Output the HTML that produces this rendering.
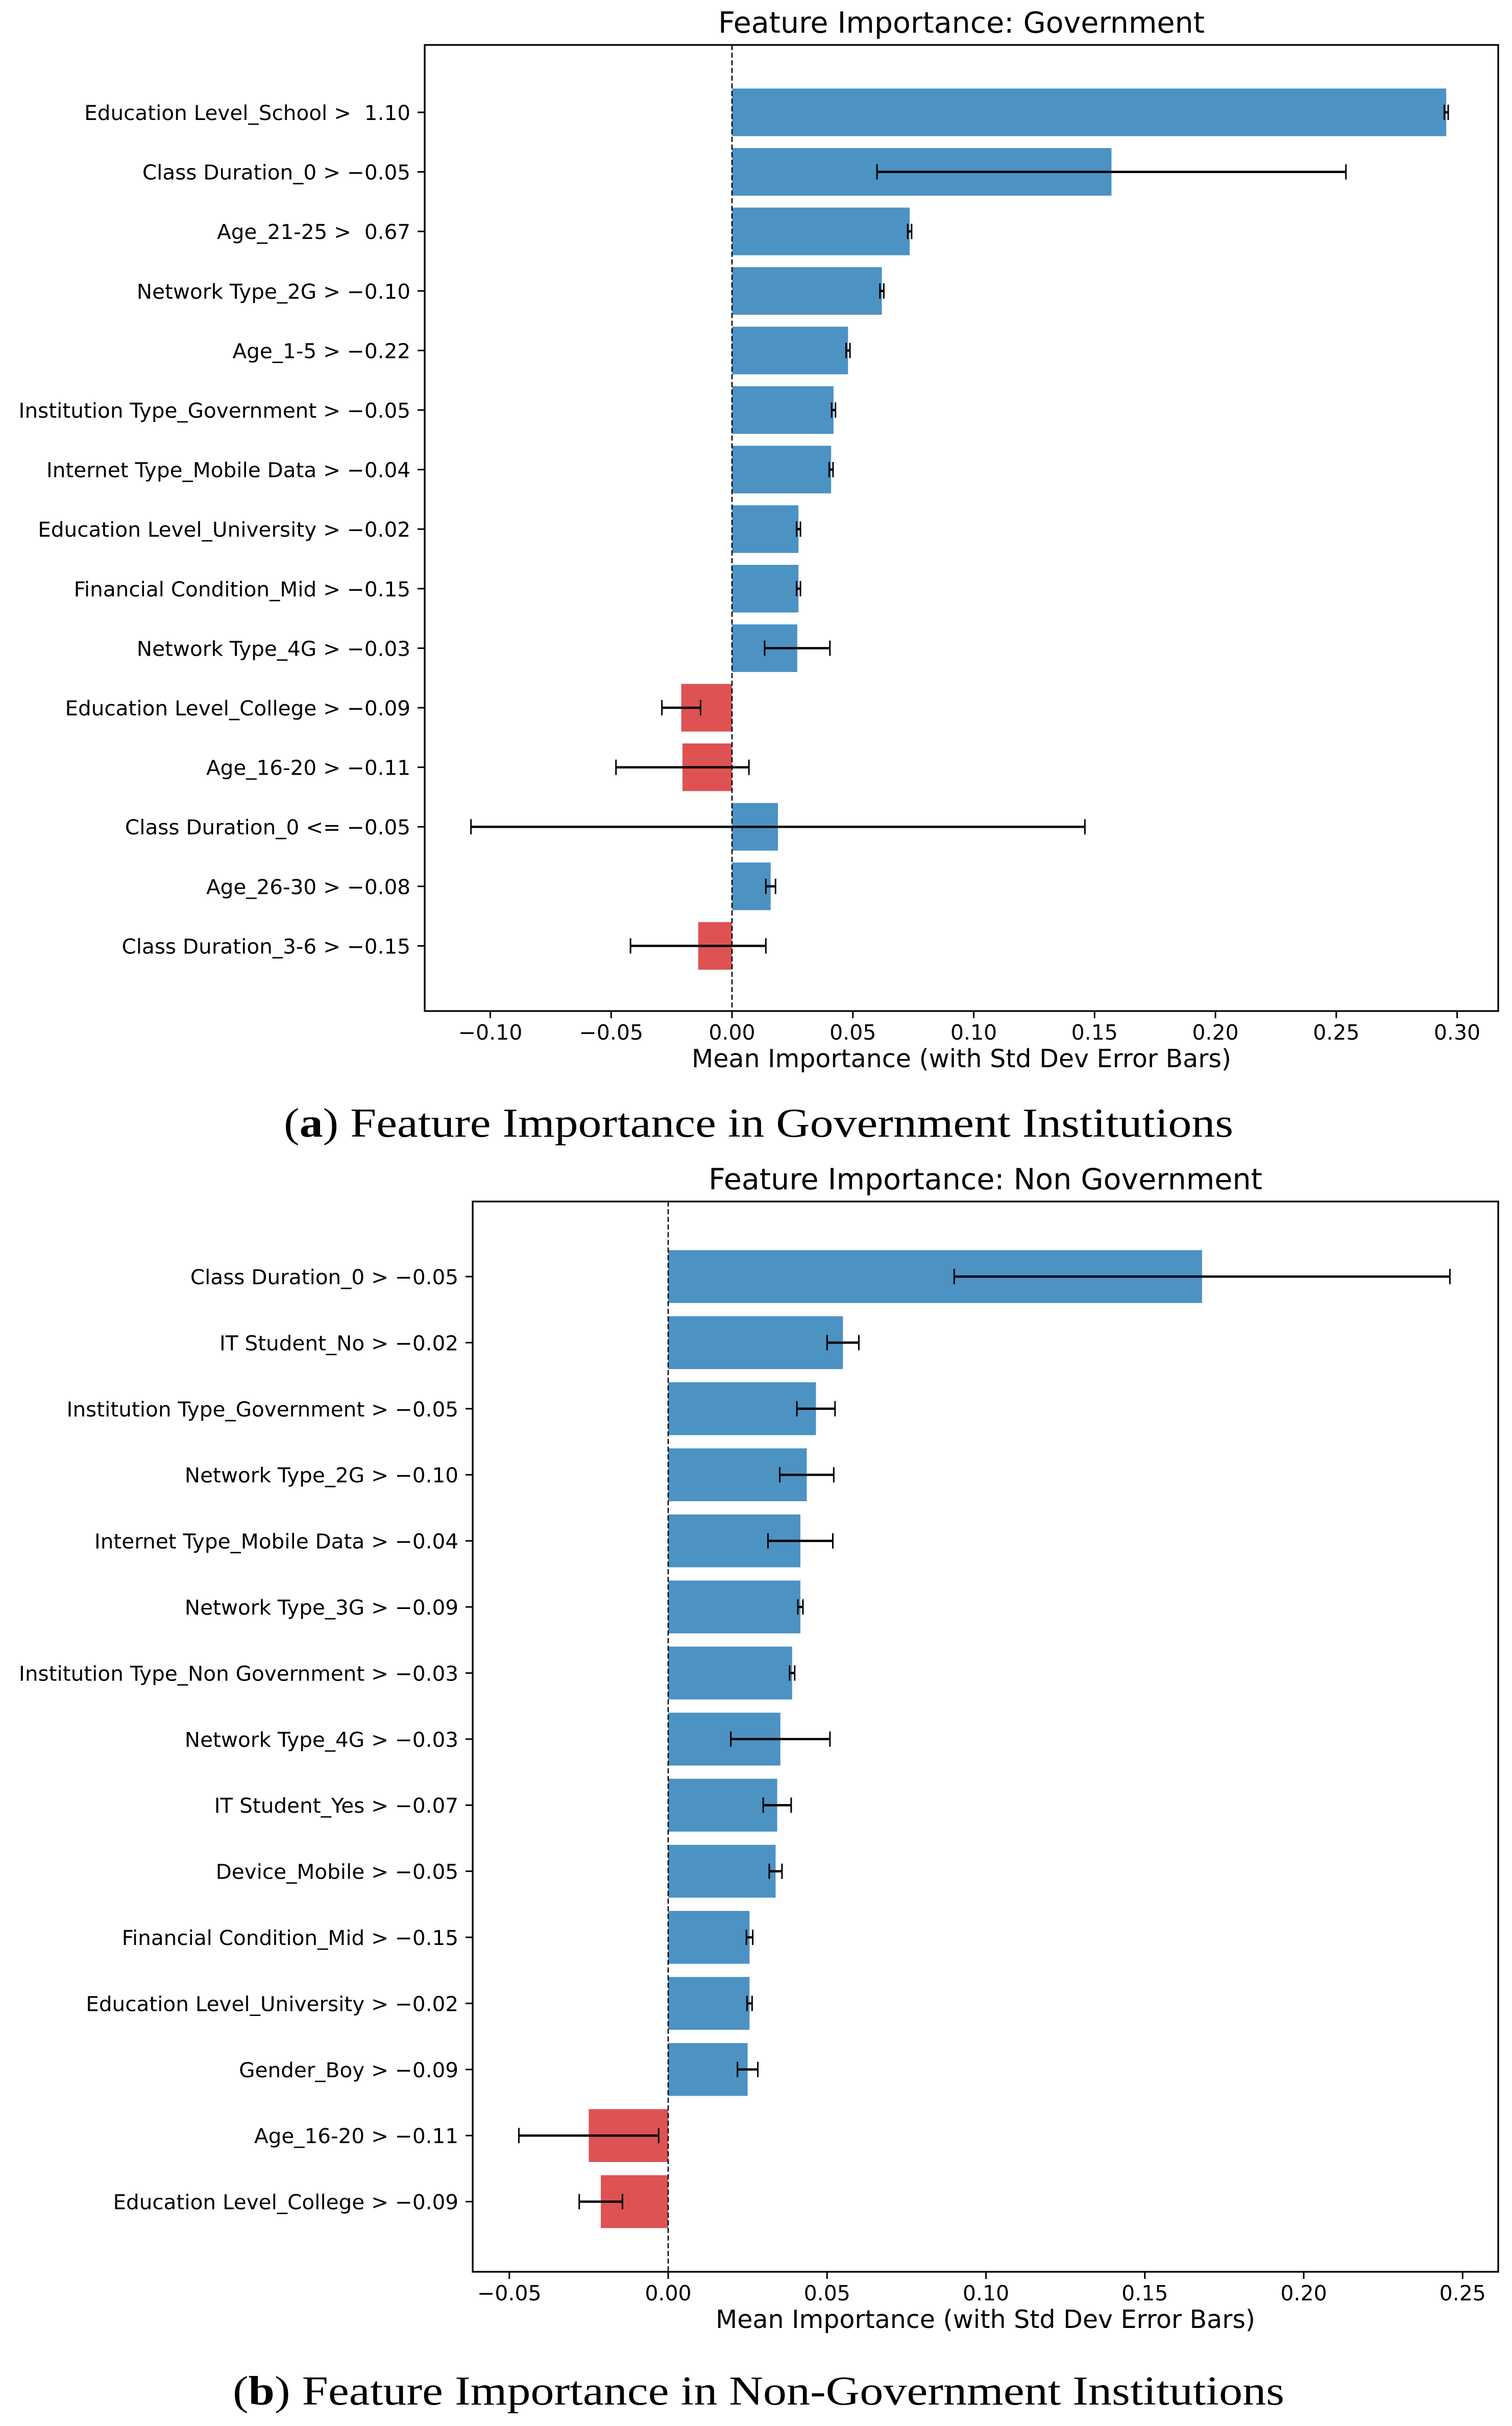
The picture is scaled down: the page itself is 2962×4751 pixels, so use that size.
<!DOCTYPE html>
<html><head><meta charset="utf-8"><style>
html,body{margin:0;padding:0;background:#fff}
svg{display:block}
text{font-family:"DejaVu Sans","Liberation Sans",sans-serif;fill:#000;white-space:pre}
.cap{font-family:"Liberation Serif",serif}
</style></head><body>
<svg id="svg" width="2962" height="4751" viewBox="0 0 2962 4751" xmlns="http://www.w3.org/2000/svg" xml:space="preserve"></svg>
<script>
// Chart (a): Government
const govLabels = ["Education Level_School >  1.10","Class Duration_0 > \u22120.05","Age_21-25 >  0.67","Network Type_2G > \u22120.10","Age_1-5 > \u22120.22","Institution Type_Government > \u22120.05","Internet Type_Mobile Data > \u22120.04","Education Level_University > \u22120.02","Financial Condition_Mid > \u22120.15","Network Type_4G > \u22120.03","Education Level_College > \u22120.09","Age_16-20 > \u22120.11","Class Duration_0 <= \u22120.05","Age_26-30 > \u22120.08","Class Duration_3-6 > \u22120.15"];
const govMeans = [0.2955,0.157,0.0735,0.062,0.048,0.042,0.041,0.0275,0.0275,0.027,-0.021,-0.0205,0.019,0.016,-0.014];
const govStds = [0.0008,0.097,0.0008,0.0008,0.0008,0.0008,0.0008,0.0008,0.0008,0.0135,0.008,0.0275,0.127,0.002,0.028];
const govTicks = [-0.10,-0.05,0.00,0.05,0.10,0.15,0.20,0.25,0.30];
// Chart (b): Non Government
const ngLabels = ["Class Duration_0 > \u22120.05","IT Student_No > \u22120.02","Institution Type_Government > \u22120.05","Network Type_2G > \u22120.10","Internet Type_Mobile Data > \u22120.04","Network Type_3G > \u22120.09","Institution Type_Non Government > \u22120.03","Network Type_4G > \u22120.03","IT Student_Yes > \u22120.07","Device_Mobile > \u22120.05","Financial Condition_Mid > \u22120.15","Education Level_University > \u22120.02","Gender_Boy > \u22120.09","Age_16-20 > \u22120.11","Education Level_College > \u22120.09"];
const ngMeans = [0.168,0.055,0.0465,0.0436,0.0416,0.0416,0.039,0.0353,0.0343,0.0338,0.0256,0.0256,0.025,-0.025,-0.0212];
const ngStds = [0.078,0.005,0.006,0.0085,0.0102,0.0008,0.0008,0.0156,0.0044,0.002,0.001,0.0008,0.0032,0.022,0.0068];
const ngTicks = [-0.05,0.00,0.05,0.10,0.15,0.20,0.25];

const NS="http://www.w3.org/2000/svg";
const svg=document.getElementById('svg');
function mk(tag,attrs,parent){const e=document.createElementNS(NS,tag);for(const k in attrs)e.setAttribute(k,attrs[k]);(parent||svg).appendChild(e);return e;}

function chart(cfg){
  const g=mk('g',{});
  
  
  const {L,R,T,B,x0,pxPerUnit,y0,step}=cfg;
  const X=v=>x0+v*pxPerUnit;
  const Y=i=>y0+i*step;
  const bh=step*0.8;
  cfg.means.forEach((m,i)=>{
    const r=mk('rect',{x:Math.min(X(0),X(m)),y:Y(i)-bh/2,width:Math.abs(X(m)-X(0)),height:bh,fill:m>=0?'#1f77b4':'#d62728','fill-opacity':0.8},g);
    
    
  });
  cfg.means.forEach((m,i)=>{
    const s=cfg.stds[i];const y=Y(i);
    const eg=mk('g',{stroke:'#000','stroke-width':4.5},g);
    
    
    mk('line',{x1:X(m-s),x2:X(m+s),y1:y,y2:y},eg);
    mk('line',{x1:X(m-s),x2:X(m-s),y1:y-15,y2:y+15,'stroke-width':3},eg);
    mk('line',{x1:X(m+s),x2:X(m+s),y1:y-15,y2:y+15,'stroke-width':3},eg);
  });
  const z=mk('line',{x1:X(0),x2:X(0),y1:T,y2:B,stroke:'#000','stroke-width':2.5,'stroke-dasharray':'10,5'},g);
  
  
  const f=mk('rect',{x:L,y:T,width:R-L,height:B-T,fill:'none',stroke:'#000','stroke-width':3.3},g);
  
  
  cfg.ticks.forEach(t=>{
    mk('line',{x1:X(t),x2:X(t),y1:B,y2:B+14,stroke:'#000','stroke-width':3},g);
    const s=(t<0?'\u2212':'')+Math.abs(t).toFixed(2);
    const tx=mk('text',{x:X(t),y:B+56,'font-size':41,'text-anchor':'middle'},g);
    tx.textContent=s;
    
    
  });
  cfg.labels.forEach((l,i)=>{
    mk('line',{x1:L-14,x2:L,y1:Y(i),y2:Y(i),stroke:'#000','stroke-width':3},g);
    const tx=mk('text',{x:L-28,y:Y(i)+15,'font-size':40.5,'text-anchor':'end'},g);
    tx.textContent=l;
    
    
  });
  const xl=mk('text',{x:(L+R)/2,y:B+110,'font-size':49,'text-anchor':'middle'},g);
  xl.textContent='Mean Importance (with Std Dev Error Bars)';
  
  
  const tt=mk('text',{x:(L+R)/2,y:T-24,'font-size':57,'text-anchor':'middle'},g);
  tt.textContent=cfg.title;
  
  
}

chart({name:'government-chart',title:'Feature Importance: Government',L:832,R:2935,T:88,B:1980,x0:1434,pxPerUnit:4735,y0:220,step:116.6,labels:govLabels,means:govMeans,stds:govStds,ticks:govTicks});
chart({name:'non-government-chart',title:'Feature Importance: Non Government',L:926,R:2935,T:2353,B:4449,x0:1309,pxPerUnit:6225,y0:2500,step:129.4,labels:ngLabels,means:ngMeans,stds:ngStds,ticks:ngTicks});

function caption(y,letter,rest,name,len){
  const t=mk('text',{x:1486,y:y,'font-size':80,'text-anchor':'middle',class:'cap',textLength:len,lengthAdjust:'spacingAndGlyphs'});
  
  
  const a=mk('tspan',{},t);a.textContent='(';
  const b=mk('tspan',{'font-weight':'bold'},t);b.textContent=letter;
  const c=mk('tspan',{},t);c.textContent=') '+rest;
}
caption(2226,'a','Feature Importance in Government Institutions','caption-a',1860);
caption(4709,'b','Feature Importance in Non-Government Institutions','caption-b',2060);
</script>
</body></html>
